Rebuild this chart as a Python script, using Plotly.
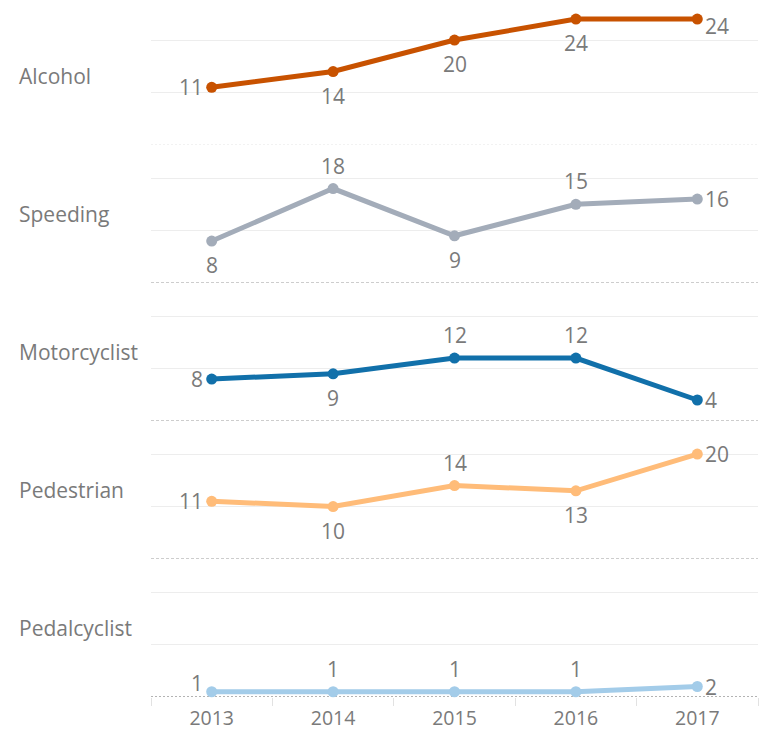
import plotly.graph_objects as go
from plotly.subplots import make_subplots

years = ["2013", "2014", "2015", "2016", "2017"]
categories = ["Alcohol", "Speeding", "Motorcyclist", "Pedestrian", "Pedalcyclist"]
alcohol = [11, 14, 20, 24, 24]
speeding = [8, 18, 9, 15, 16]
motorcyclist = [8, 9, 12, 12, 4]
pedestrian = [11, 10, 14, 13, 20]
pedalcyclist = [1, 1, 1, 1, 2]

series = [alcohol, speeding, motorcyclist, pedestrian, pedalcyclist]
colors = ["#c85200", "#a3acb9", "#1170aa", "#ffbc79", "#a3cce9"]
label_pos = [
    ["left", "below", "below", "below", "rightlow"],
    ["below", "above", "below", "above", "right"],
    ["left", "below", "above", "above", "right"],
    ["left", "below", "above", "below", "right"],
    ["upleft", "above", "above", "above", "right"],
]

TXT = "#7a7a7a"
FONT = "Open Sans"
FS = 21

fig = make_subplots(rows=5, cols=1, shared_xaxes=True, vertical_spacing=0)
xi = list(range(len(years)))

annotations = []
shapes = []
for r, (name, vals, col, poss) in enumerate(zip(categories, series, colors, label_pos), start=1):
    fig.add_trace(go.Scatter(
        x=xi, y=vals, mode="lines+markers",
        line=dict(color=col, width=5), marker=dict(color=col, size=11),
        cliponaxis=False, hoverinfo="skip", showlegend=False), row=r, col=1)
    yref = "y" if r == 1 else f"y{r}"
    for i, (v, p) in enumerate(zip(vals, poss)):
        a = dict(x=i, y=v, xref="x", yref=yref, text=str(v), showarrow=False,
                 font=dict(family=FONT, size=FS, color=TXT))
        if p == "left":
            a.update(xanchor="right", yanchor="middle", xshift=-7)
        elif p == "upleft":
            a.update(xanchor="right", yanchor="middle", xshift=-7, yshift=9)
        elif p == "right":
            a.update(xanchor="left", yanchor="middle", xshift=6)
        elif p == "rightlow":
            a.update(xanchor="left", yanchor="middle", xshift=6, yshift=-7)
        elif p == "below":
            a.update(xanchor="center", yanchor="top", yshift=-8)
        elif p == "above":
            a.update(xanchor="center", yanchor="bottom", yshift=7)
        annotations.append(a)
    annotations.append(dict(x=-0.2204, y=0.5, xref="paper", yref=f"{yref} domain",
                            text=name, showarrow=False, xanchor="left", yanchor="middle",
                            font=dict(family=FONT, size=FS, color=TXT)))
    if r == 1:
        ls = dict(color="#e4e4e4", width=1, dash="2px,2px")
    elif r == 5:
        ls = dict(color="#666666", width=1, dash="2px,2px")
    else:
        ls = dict(color="#9a9a9a", width=1, dash="3px,2px")
    shapes.append(dict(type="line", xref="paper", x0=0, x1=1, yref=yref, y0=0, y1=0,
                       line=ls, layer="below"))
    fig.update_yaxes(range=[0, 26.3], tickvals=[10, 20], showticklabels=False,
                     showgrid=True, gridcolor="#ededed", gridwidth=1, zeroline=False,
                     showline=False, ticks="", automargin=False, row=r, col=1)

fig.update_xaxes(range=[-0.5, 4.5], showgrid=False, zeroline=False, showline=False,
                 automargin=False)
fig.update_xaxes(tickvals=xi, ticktext=years, ticks="outside", ticklen=4,
                 tickcolor="rgba(0,0,0,0)", showticklabels=True,
                 tickfont=dict(family=FONT, size=19.5, color=TXT),
                 minor=dict(tickvals=[-0.5, 0.5, 1.5, 2.5, 3.5, 4.5], ticks="outside",
                            ticklen=8, tickcolor="#e2e2e2", tickwidth=1),
                 row=5, col=1)

fig.update_layout(width=759, height=731, margin=dict(l=151, r=1, t=7, b=34, autoexpand=False),
                  paper_bgcolor="white", plot_bgcolor="white",
                  annotations=annotations, shapes=shapes,
                  font=dict(family=FONT, color=TXT), hovermode=False)

fig.write_html("out.html", config={"displayModeBar": False},
               post_script="document.body.style.margin='0';")
